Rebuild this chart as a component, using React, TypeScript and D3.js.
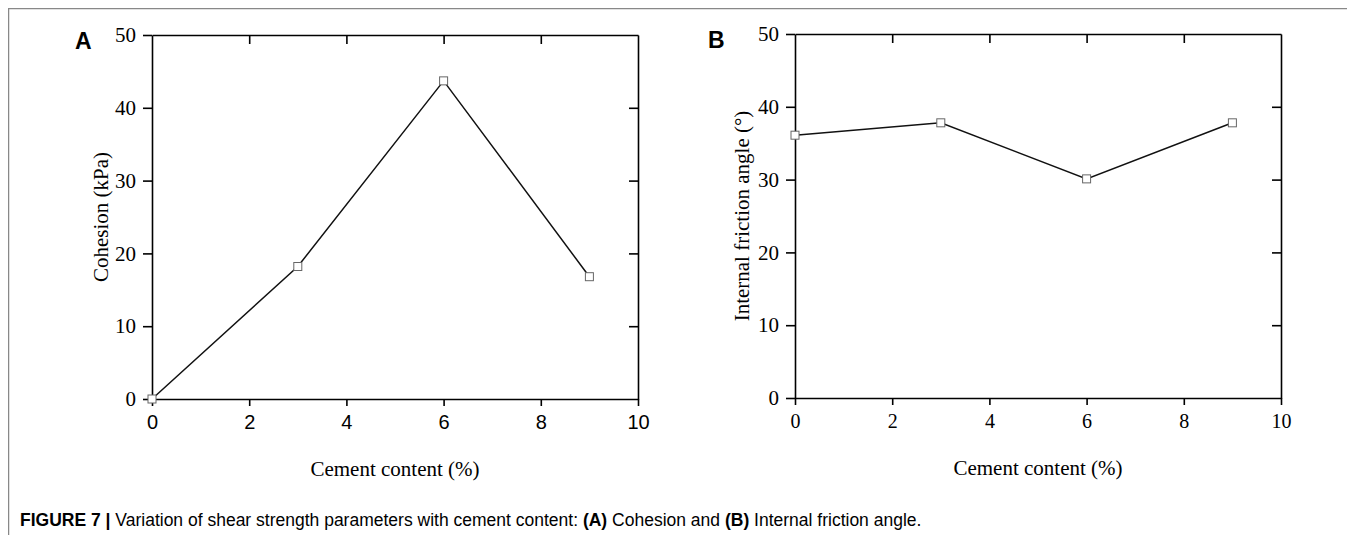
import { useEffect, useRef } from 'react';
import * as d3 from 'd3';

const cement = [0, 3, 6, 9];
const cohesion = [0, 18.2, 43.7, 16.8];
const friction = [36.1, 37.8, 30.1, 37.8];
const xTicks = [0, 2, 4, 6, 8, 10];
const yTicks = [0, 10, 20, 30, 40, 50];

const SERIF = '"Liberation Serif", "Times New Roman", serif';
const SANS = '"Liberation Sans", Arial, sans-serif';

type PanelProps = {
  letter: string;
  values: number[];
  yTitle: string;
  left: number;
  top: number;
  letterX: number;
  xFont: string;
  yTitleX: number;
};

function Panel({ letter, values, yTitle, left, top, letterX, xFont, yTitleX }: PanelProps) {
  const ref = useRef<SVGGElement>(null);
  const w = 486;
  const h = 364;

  useEffect(() => {
    const g = d3.select(ref.current);
    g.selectAll('*').remove();

    const x = d3.scaleLinear().domain([0, 10]).range([0, w]);
    const y = d3.scaleLinear().domain([0, 50]).range([h, 0]);

    // axes: outward ticks bottom/left, inward ticks top/right
    const styleAxis = (sel: any, font: string) => {
      sel.select('.domain').attr('stroke', '#000').attr('stroke-width', 1.6);
      sel.selectAll('.tick line').attr('stroke', '#000').attr('stroke-width', 1.6);
      sel.selectAll('.tick text').attr('fill', '#000').style('font-family', font);
    };

    g.append('g')
      .attr('transform', `translate(0,${h})`)
      .call(d3.axisBottom(x).tickValues(xTicks).tickSize(7).tickSizeOuter(0).tickPadding(9))
      .call((s: any) => styleAxis(s, xFont))
      .selectAll('text').style('font-size', '20px');

    g.append('g')
      .call(d3.axisLeft(y).tickValues(yTicks).tickSize(9).tickSizeOuter(0).tickPadding(7))
      .call((s: any) => styleAxis(s, SERIF))
      .selectAll('text').style('font-size', '21px');

    g.append('g')
      .call(d3.axisBottom(x).tickValues(xTicks.slice(1, -1)).tickSize(9).tickSizeOuter(0).tickFormat(() => ''))
      .call((s: any) => styleAxis(s, SERIF));

    g.append('g')
      .attr('transform', `translate(${w},0)`)
      .call(d3.axisLeft(y).tickValues(yTicks.slice(1, -1)).tickSize(9).tickSizeOuter(0).tickFormat(() => ''))
      .call((s: any) => styleAxis(s, SERIF));

    const pts: [number, number][] = cement.map((c, i) => [c, values[i]]);
    const line = d3.line<[number, number]>()
      .x(d => x(d[0]))
      .y(d => y(d[1]));

    g.append('path')
      .datum(pts)
      .attr('fill', 'none')
      .attr('stroke', '#111')
      .attr('stroke-width', 1.5)
      .attr('d', line);

    g.selectAll('rect.mk')
      .data(pts)
      .join('rect')
      .attr('class', 'mk')
      .attr('x', d => x(d[0]) - 4)
      .attr('y', d => y(d[1]) - 4)
      .attr('width', 8)
      .attr('height', 8)
      .attr('fill', '#fff')
      .attr('stroke', '#666')
      .attr('stroke-width', 1);

    g.append('text')
      .attr('x', w / 2)
      .attr('y', h + 77)
      .attr('text-anchor', 'middle')
      .style('font-family', SERIF)
      .style('font-size', '21px')
      .text('Cement content (%)');

    g.append('text')
      .attr('transform', `translate(${yTitleX},${h / 2}) rotate(-90)`)
      .attr('text-anchor', 'middle')
      .style('font-family', SERIF)
      .style('font-size', '21px')
      .text(yTitle);

    g.append('text')
      .attr('x', letterX)
      .attr('y', 14)
      .style('font-family', SANS)
      .style('font-weight', 'bold')
      .style('font-size', '23px')
      .text(letter);
  }, [letter, values, yTitle, letterX, xFont, yTitleX]);

  return <g ref={ref} transform={`translate(${left},${top})`} />;
}

export default function App() {
  return (
    <svg width={1340} height={527} style={{ display: 'block' }}>
      <rect x={0.5} y={0.5} width={1340} height={600} fill="#fff" stroke="#888" strokeWidth={1.5} />
      <Panel letter="A" values={cohesion} yTitle="Cohesion (kPa)" left={144} top={27}
        letterX={-77} xFont={SANS} yTitleX={-44} />
      <Panel letter="B" values={friction} yTitle="Internal friction angle (°)" left={787} top={26}
        letterX={-87} xFont={SERIF} yTitleX={-46} />
      <text x={12} y={518} style={{ fontFamily: SANS, fontSize: '17.5px' }}>
        <tspan fontWeight="bold">FIGURE 7 | </tspan>
        <tspan>Variation of shear strength parameters with cement content: </tspan>
        <tspan fontWeight="bold">(A)</tspan>
        <tspan> Cohesion and </tspan>
        <tspan fontWeight="bold">(B)</tspan>
        <tspan> Internal friction angle.</tspan>
      </text>
    </svg>
  );
}
